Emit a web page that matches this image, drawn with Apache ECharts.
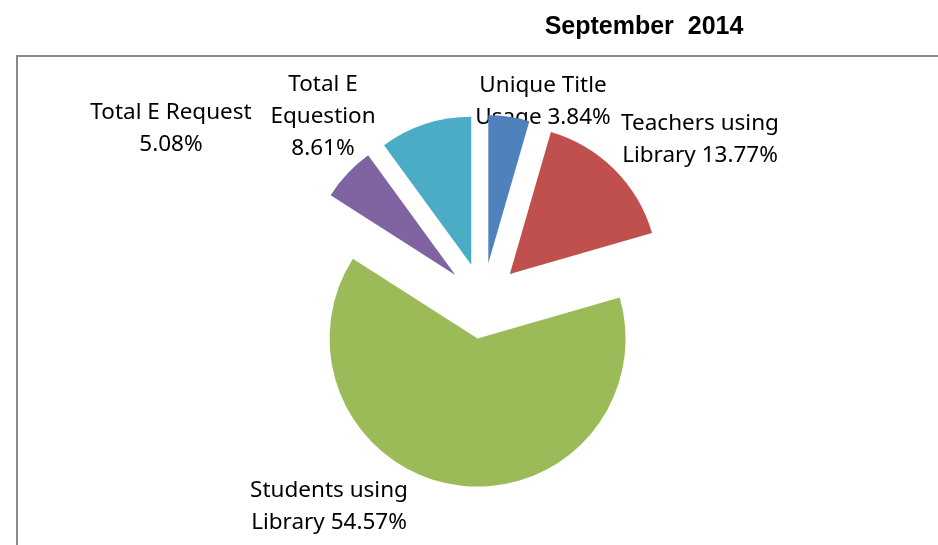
<!DOCTYPE html>
<html>
<head>
<meta charset="utf-8">
<script src="https://cdn.jsdelivr.net/npm/echarts@6/dist/echarts.min.js"></script>
<style>
html, body { margin: 0; padding: 0; background: #fff; }
#chart { width: 938px; height: 545px; }
</style>
</head>
<body>
<div id="chart"></div>
<script>
// pie slices, clockwise from 12 o'clock
var categories = ['Unique Title\nUsage', 'Teachers using\nLibrary', 'Students using\nLibrary', 'Total E Request', 'Total E\nEquestion'];
var values = [3.84, 13.77, 54.57, 5.08, 8.61];
var valueBreak = [' ', ' ', ' ', '\n', '\n'];
var colors = ['#4F81BD', '#C0504D', '#9BBB59', '#8064A2', '#4BACC6'];

// label block centres (layout only)
var labelPos = [[543, 102], [700, 140], [329, 507], [171, 129], [323, 117]];

var chart = echarts.init(document.getElementById('chart'), null, { renderer: 'canvas' });

var labelFont = { fontFamily: 'Noto Sans', fontSize: 22.5, lineHeight: 32 };

var graphics = [{
	// chart frame (left and top edges visible)
	type: 'rect',
	shape: { x: 17, y: 56, width: 1000, height: 600 },
	style: { fill: 'none', stroke: '#8a8a8a', lineWidth: 2 },
	silent: true
}];
categories.forEach(function(n, i) {
	graphics.push({
		type: 'text',
		x: labelPos[i][0],
		y: labelPos[i][1],
		silent: true,
		style: {
			text: n + valueBreak[i] + values[i].toFixed(2) + '%',
			fontFamily: labelFont.fontFamily,
			fontSize: labelFont.fontSize,
			lineHeight: labelFont.lineHeight,
			fill: '#000',
			textAlign: 'center',
			align: 'center',
			textVerticalAlign: 'middle',
			verticalAlign: 'middle'
		}
	});
});

var option = {
	animation: false,
	title: {
		text: 'September  2014',
		left: 639,
		top: 10,
		textAlign: 'center',
		textStyle: { fontFamily: 'Liberation Sans', fontWeight: 'bold', fontSize: 25, color: '#000' }
	},
	graphic: graphics,
	series: [{
		type: 'pie',
		center: [483, 301],
		radius: 148,
		startAngle: 90,
		clockwise: true,
		selectedMode: 'multiple',
		selectedOffset: 38,
		emphasis: { disabled: true },
		label: { show: false },
		labelLine: { show: false },
		data: categories.map(function(n, i) {
			return { name: n, value: values[i], selected: true, itemStyle: { color: colors[i] } };
		})
	}]
};
chart.setOption(option);
</script>
</body>
</html>
